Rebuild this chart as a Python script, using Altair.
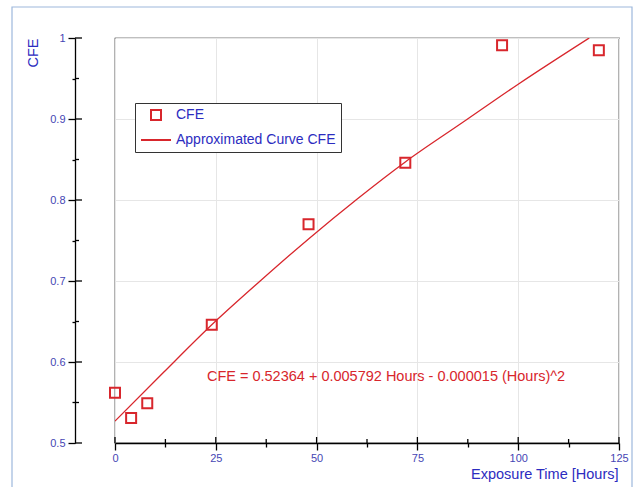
import altair as alt
import pandas as pd

# Data
hours = [0, 4, 8, 24, 48, 72, 96, 120]
cfe = [0.562, 0.531, 0.549, 0.646, 0.770, 0.846, 0.991, 0.985]
series_names = ["CFE", "Approximated Curve CFE"]
# approximated curve
curve_hours = [0, 12, 24, 36, 48, 60, 72, 86, 100, 117.6]
curve_cfe = [0.527, 0.587, 0.646, 0.700, 0.752, 0.801, 0.847, 0.895, 0.943, 1.0]
equation = "CFE = 0.52364 + 0.005792 Hours -  0.000015 (Hours)^2"

x_major = [0, 25, 50, 75, 100, 125]
x_minor = [12.5, 37.5, 62.5, 87.5, 112.5]
y_major = [0.5, 0.6, 0.7, 0.8, 0.9, 1.0]
y_minor = [0.55, 0.65, 0.75, 0.85, 0.95]

W, H = 504, 405
RED = "#d8262c"
LBLUE = "#4646b4"
TBLUE = "#2c2cc0"
FONT = "Liberation Sans"

df = pd.DataFrame({"hours": hours, "cfe": cfe, "series": ["CFE"] * len(hours)})
cdf = pd.DataFrame({"hours": curve_hours, "cfe": curve_cfe})
eq_df = pd.DataFrame({"hours": [22.8], "cfe": [0.582], "label": [equation]})

xscale = alt.Scale(domain=[0, 125], nice=False, zero=False)
yscale = alt.Scale(domain=[0.5, 1.0], nice=False, zero=False)

x_axis = alt.Axis(
    values=x_major + x_minor,
    title="Exposure Time [Hours]",
    labelExpr="(datum.value % 25 == 0) ? format(datum.value, 'd') : ''",
    labelFlush=False,
    tickSize={"condition": {"test": "datum.value % 25 == 0", "value": 7}, "value": 4},
    grid=True,
    gridColor={"condition": {"test": "datum.value % 25 == 0", "value": "#e6e6e6"}, "value": "transparent"},
    titleX=W - 1, titleY=31, titleAlign="right", titleBaseline="middle",
    labelPadding=2,
)
ytest = "abs(datum.value*10 - round(datum.value*10)) < 0.01"
y_axis = alt.Axis(
    values=y_major + y_minor,
    title="CFE",
    offset=40,
    labelExpr="(" + ytest + ") ? format(datum.value, '~g') : ''",
    tickSize={"condition": {"test": ytest, "value": 7}, "value": 3},
    grid=True,
    gridColor={"condition": {"test": ytest, "value": "#e6e6e6"}, "value": "transparent"},
    titleX=-42, titleY=0, titleAngle=-90, titleAlign="right", titleBaseline="middle",
    labelPadding=3,
)

points = alt.Chart(df).mark_point(filled=False, strokeWidth=2, opacity=1).encode(
    x=alt.X("hours:Q", scale=xscale, axis=x_axis),
    y=alt.Y("cfe:Q", scale=yscale, axis=y_axis),
    color=alt.Color("series:N", scale=alt.Scale(domain=series_names, range=[RED, RED]),
                    legend=alt.Legend(title=None)),
    shape=alt.Shape("series:N", scale=alt.Scale(domain=series_names, range=["square", "stroke"]),
                    legend=alt.Legend(title=None)),
    size=alt.Size("series:N", scale=alt.Scale(domain=series_names, range=[100, 900]),
                  legend=alt.Legend(title=None)),
)

curve = alt.Chart(cdf).mark_line(
    color=RED, strokeWidth=1.3, clip=True, interpolate="monotone"
).encode(
    x=alt.X("hours:Q", scale=xscale),
    y=alt.Y("cfe:Q", scale=yscale),
)

eq_text = alt.Chart(eq_df).mark_text(
    align="left", baseline="middle", color=RED, fontSize=14.5, font=FONT
).encode(
    x=alt.X("hours:Q", scale=xscale),
    y=alt.Y("cfe:Q", scale=yscale),
    text="label:N",
)

# inward halves of the crossing axis ticks
xmaj_in = alt.Chart(pd.DataFrame({"v": x_major})).mark_rule(color="black", strokeWidth=1.3, clip=False).encode(
    x=alt.X("v:Q", scale=xscale), y=alt.value(H), y2=alt.value(H - 6))
xmin_in = alt.Chart(pd.DataFrame({"v": x_minor})).mark_rule(color="black", strokeWidth=1.3, clip=False).encode(
    x=alt.X("v:Q", scale=xscale), y=alt.value(H), y2=alt.value(H - 4))
ymaj_in = alt.Chart(pd.DataFrame({"v": y_major})).mark_rule(color="black", strokeWidth=1.3, clip=False).encode(
    y=alt.Y("v:Q", scale=yscale), x=alt.value(-40), x2=alt.value(-33))
ymin_in = alt.Chart(pd.DataFrame({"v": y_minor})).mark_rule(color="black", strokeWidth=1.3, clip=False).encode(
    y=alt.Y("v:Q", scale=yscale), x=alt.value(-40), x2=alt.value(-36))

frame = alt.Chart(pd.DataFrame({"a": [0]})).mark_rect(
    fill="transparent", stroke="#9db8dc", strokeWidth=1.2, clip=False
).encode(
    x=alt.value(-103), x2=alt.value(517), y=alt.value(-31), y2=alt.value(470)
)

chart = alt.layer(frame, curve, points, eq_text, xmaj_in, xmin_in, ymaj_in, ymin_in).properties(
    width=W,
    height=H,
    padding={"left": 115, "top": 38, "right": 20, "bottom": 44},
    autosize="none",
    background="white",
).configure_view(
    stroke="black", strokeWidth=1.2
).configure_axis(
    domainColor="black", domainWidth=1.3,
    tickColor="black", tickWidth=1.3,
    labelColor=LBLUE, labelFont=FONT, labelFontSize=11,
    titleColor=TBLUE, titleFont=FONT, titleFontSize=14.5, titleFontWeight="normal",
).configure_legend(
    orient="none", legendX=20, legendY=65,
    fillColor="white", strokeColor="#333333",
    padding=5, rowPadding=-3, labelOffset=4,
    labelColor=TBLUE, labelFont=FONT, labelFontSize=14,
    symbolStrokeWidth=2,
)

chart.save("out.html", embed_options={"renderer": "svg", "actions": False})
